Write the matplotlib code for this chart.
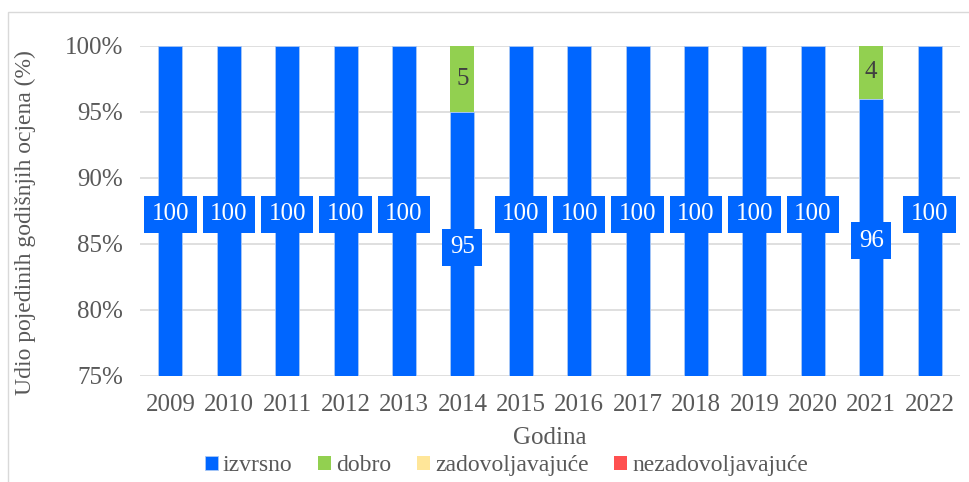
import matplotlib

matplotlib.use("Agg")
import matplotlib.pyplot as plt  # noqa: E402
from matplotlib.patches import Rectangle  # noqa: E402
from matplotlib.ticker import FuncFormatter  # noqa: E402

years = ["2009", "2010", "2011", "2012", "2013", "2014", "2015",
         "2016", "2017", "2018", "2019", "2020", "2021", "2022"]
izvrsno = [100, 100, 100, 100, 100, 95, 100, 100, 100, 100, 100, 100, 96, 100]
dobro = [0, 0, 0, 0, 0, 5, 0, 0, 0, 0, 0, 0, 4, 0]
zadovoljavajuce = [0] * 14
nezadovoljavajuce = [0] * 14

series_names = ["izvrsno", "dobro", "zadovoljavajuće", "nezadovoljavajuće"]
series_colors = ["#0066FF", "#92D050", "#FFE699", "#FF5050"]

plt.rcParams["font.family"] = ["Liberation Serif", "DejaVu Serif"]
text_color = "#595959"
y_min, y_max = 75, 100

fig = plt.figure(figsize=(9.69, 4.82), dpi=100)
fig.patches.append(Rectangle((8 / 969, -0.01), 1.0, 1 - 12 / 482 + 0.01,
                             transform=fig.transFigure, fill=False,
                             edgecolor="#D9D9D9", linewidth=1.0))
ax = fig.add_axes([140 / 969, 1 - 376 / 482, 820 / 969, 330 / 482])

x = list(range(len(years)))
bottom = [0] * len(years)
for name, vals, color in zip(series_names,
                             [izvrsno, dobro, zadovoljavajuce, nezadovoljavajuce],
                             series_colors):
    edge = "#A9C8F5" if name == "izvrsno" else color
    lw = 0.6 if name == "izvrsno" else 0.0
    ax.bar(x, vals, bottom=bottom, width=0.41, color=color, label=name,
           edgecolor=edge, linewidth=lw, zorder=2)
    for i, v in enumerate(vals):
        if v <= 0:
            continue
        lo = max(bottom[i], y_min)
        hi = min(bottom[i] + v, y_max)
        yc = (lo + hi) / 2
        if name == "izvrsno":
            ax.text(i, yc - 0.25, f"{v}", ha="center", va="center", fontsize=18,
                    color="white", zorder=4,
                    bbox=dict(boxstyle="square,pad=0.3", facecolor=color,
                              edgecolor="none"))
        else:
            ax.text(i, yc, f"{v}", ha="center", va="center", fontsize=18,
                    color="#404040", zorder=4)
    bottom = [b + v for b, v in zip(bottom, vals)]

ax.set_ylim(y_min, y_max)
ax.set_xlim(-0.52, len(years) - 0.48)
ax.set_yticks([75, 80, 85, 90, 95, 100])
ax.yaxis.set_major_formatter(FuncFormatter(lambda v, _: f"{v:.0f}%"))
ax.set_xticks(x)
ax.set_xticklabels(years)
ax.tick_params(axis="both", length=0, labelsize=18, labelcolor=text_color)
ax.tick_params(axis="y", pad=12)
ax.tick_params(axis="x", pad=13)
ax.grid(axis="y", color="#D9D9D9", linewidth=1.2, zorder=0)
ax.set_axisbelow(True)
for side in ["top", "right", "left", "bottom"]:
    ax.spines[side].set_visible(False)

ax.set_xlabel("Godina", fontsize=18, color=text_color, labelpad=8)
ax.set_ylabel("Udio pojedinih godišnjih ocjena (%)", fontsize=17,
              color=text_color)
ax.yaxis.set_label_coords(-0.127, 0.464)

ax.legend(loc="upper center", bbox_to_anchor=(0.447, -0.19), ncol=4,
          frameon=False, fontsize=17, handlelength=0.55, handleheight=0.55,
          handletextpad=0.2, columnspacing=1.1, labelcolor=text_color,
          borderpad=0.2)

fig.savefig("out.png", dpi=100)
